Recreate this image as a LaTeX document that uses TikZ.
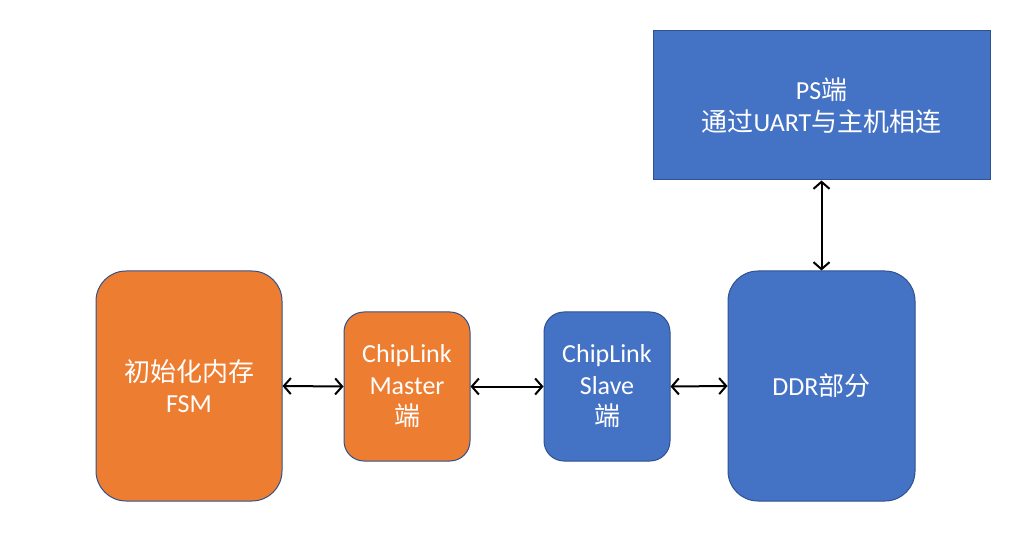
\documentclass[tikz,border=0pt]{standalone}
\usepackage{fontspec}
\setmainfont{Carlito}
\newfontfamily\cjk{Noto Sans CJK SC}
\newcommand{\zh}[1]{{\cjk #1}}
\usetikzlibrary{arrows.meta}
\definecolor{orangebox}{HTML}{ED7D31}
\definecolor{bluebox}{HTML}{4472C4}
\definecolor{edgeblue}{HTML}{2F528F}
\tikzset{
  blk/.style={draw=edgeblue, line width=1pt, text=white, align=center, inner sep=0pt,
    font=\fontsize{26}{31.5}\selectfont},
  link/.style={line width=2pt, {Straight Barb[length=7pt,width=16pt,line width=2pt]}-{Straight Barb[length=7pt,width=16pt,line width=2pt]}}
}
\begin{document}
\begin{tikzpicture}[x=1pt,y=-1pt]
\useasboundingbox (0,0) rectangle (1014,534);
\node[blk, fill=orangebox, rounded corners=30pt, minimum width=186pt, minimum height=230pt] (fsm) at (189,386) {\zh{初始化内存}\\FSM};
\node[blk, fill=orangebox, rounded corners=20pt, minimum width=126pt, minimum height=149pt] (master) at (407,386.5) {ChipLink\\Master\\\zh{端}};
\node[blk, fill=bluebox, rounded corners=20pt, minimum width=126pt, minimum height=149pt] (slave) at (607,386.5) {ChipLink\\Slave\\\zh{端}};
\node[blk, fill=bluebox, rounded corners=30pt, minimum width=187pt, minimum height=230pt] (ddr) at (821.5,386) {DDR\zh{部分}};
\node[blk, fill=bluebox, minimum width=337pt, minimum height=149pt] (ps) at (821.5,105.5) {PS\zh{端}\\\zh{通过}UART\zh{与主机相连}};
\draw[link] (fsm.east) -- (master.west);
\draw[link] (master.east) -- (slave.west);
\draw[link] (slave.east) -- (ddr.west);
\draw[link] (ps.south) -- (ddr.north);
\end{tikzpicture}
\end{document}
